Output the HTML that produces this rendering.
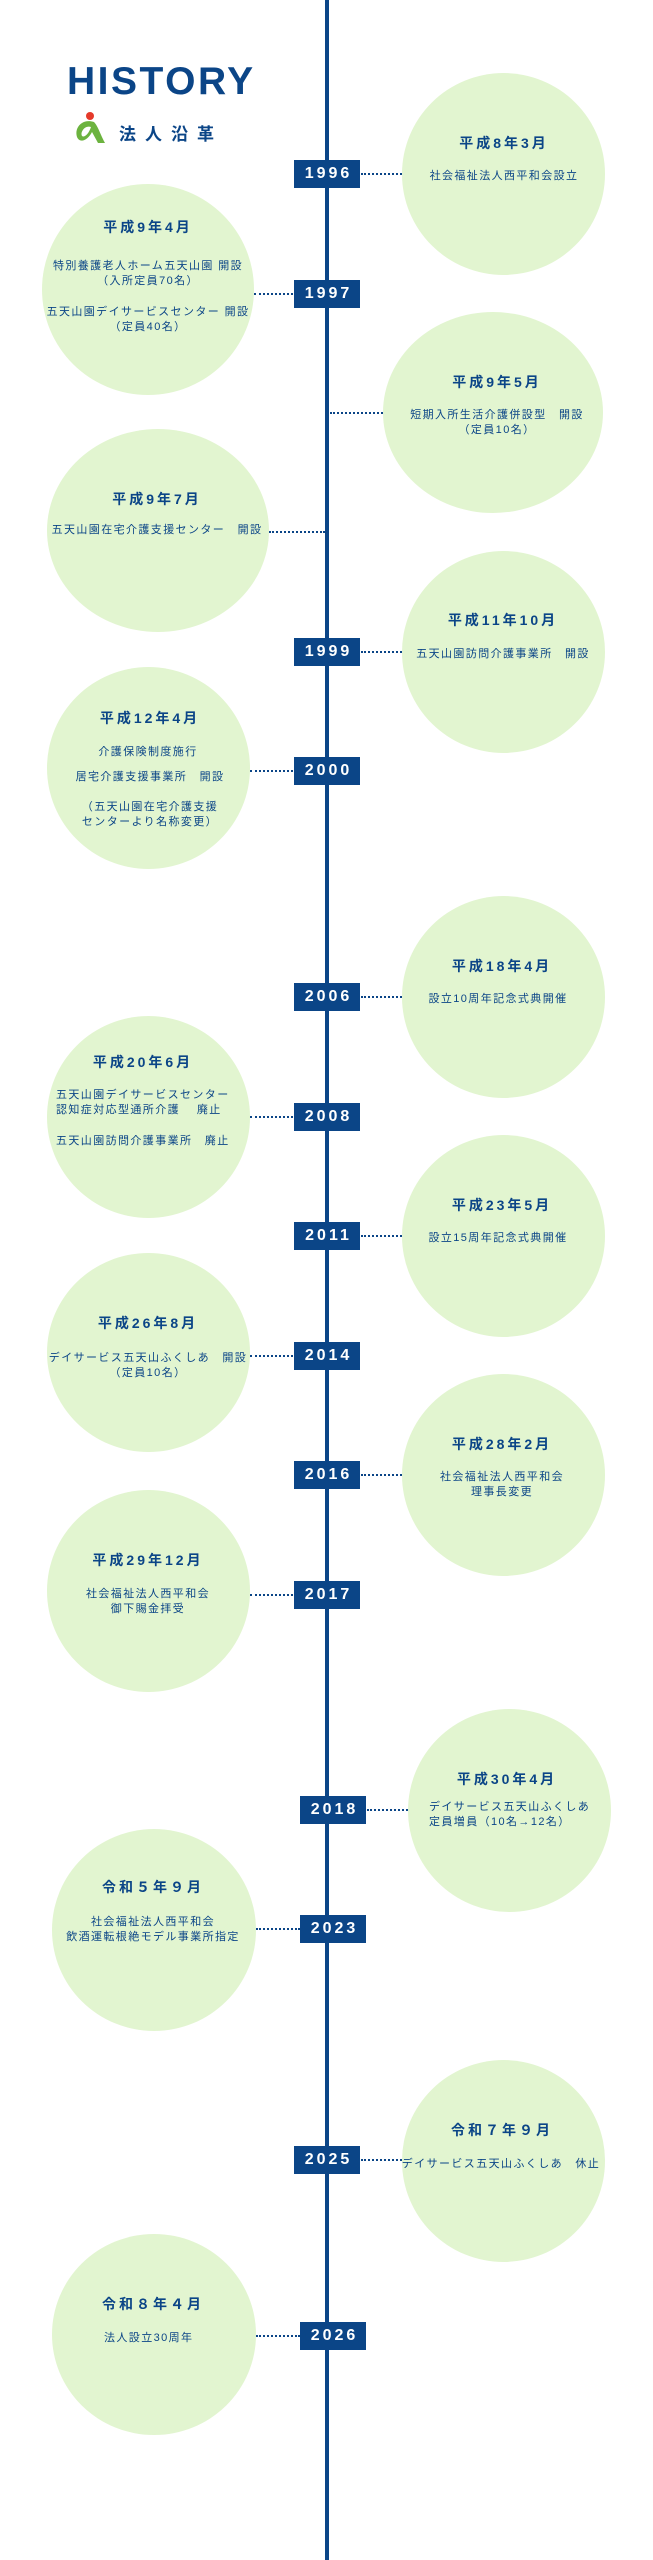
<!DOCTYPE html>
<html><head><meta charset="utf-8">
<style>
html,body{margin:0;padding:0;background:#fff;}
body{width:653px;height:2560px;position:relative;overflow:hidden;font-family:"Liberation Sans","Noto Sans CJK JP",sans-serif;color:#0b4587;}
.line{position:absolute;left:325px;top:0;width:4px;height:2560px;background:#0b4587;}
.c{position:absolute;background:#e2f5d0;border-radius:50%;}
.y{position:absolute;width:66px;height:28px;background:#0b4587;color:#fff;font-weight:bold;font-size:16px;letter-spacing:3px;text-align:center;line-height:28px;text-indent:3px;}
.d{position:absolute;height:0;border-top:2px dotted #0b4587;}
.t{position:absolute;font-weight:bold;font-size:14px;letter-spacing:3px;line-height:14px;white-space:nowrap;transform:translateX(-50%);text-align:center;}
.b{position:absolute;font-size:11px;letter-spacing:1.4px;line-height:14.5px;white-space:nowrap;transform:translateX(-50%);text-align:center;}
.bl{position:absolute;font-size:11px;letter-spacing:1.4px;line-height:14.5px;white-space:nowrap;}
</style></head><body>
<div class="line"></div>

<div style="position:absolute;left:67px;top:62px;font-size:39px;font-weight:bold;letter-spacing:2.5px;line-height:40px;">HISTORY</div>
<svg style="position:absolute;left:72px;top:110px" width="38" height="36" viewBox="0 0 38 36">
<circle cx="18" cy="6" r="4" fill="#e53a2a"/>
<path d="M22 12 C10 8 2 18 5 27 C8 34 16 30 20 22 L26 33 L33 33 C28 24 26 16 22 12 Z M19 17 C17 23 13 28 10 26 C8 23 12 15 19 17 Z" fill="#6cb33f"/>
</svg>
<div style="position:absolute;left:119px;top:126px;font-size:17px;font-weight:bold;letter-spacing:9px;line-height:18px;">法人沿革</div>

<!-- circles right -->
<div class="c" style="left:402px;top:73px;width:203px;height:202px"></div>
<div class="c" style="left:383px;top:312px;width:220px;height:201px"></div>
<div class="c" style="left:402px;top:551px;width:203px;height:202px"></div>
<div class="c" style="left:402px;top:896px;width:203px;height:202px"></div>
<div class="c" style="left:402px;top:1135px;width:203px;height:202px"></div>
<div class="c" style="left:402px;top:1374px;width:203px;height:202px"></div>
<div class="c" style="left:408px;top:1709px;width:203px;height:203px"></div>
<div class="c" style="left:402px;top:2060px;width:203px;height:202px"></div>
<!-- circles left -->
<div class="c" style="left:42px;top:184px;width:212px;height:211px"></div>
<div class="c" style="left:47px;top:429px;width:222px;height:203px"></div>
<div class="c" style="left:47px;top:667px;width:203px;height:202px"></div>
<div class="c" style="left:47px;top:1016px;width:203px;height:202px"></div>
<div class="c" style="left:47px;top:1253px;width:203px;height:199px"></div>
<div class="c" style="left:47px;top:1490px;width:203px;height:202px"></div>
<div class="c" style="left:52px;top:1829px;width:204px;height:202px"></div>
<div class="c" style="left:52px;top:2234px;width:204px;height:201px"></div>

<!-- connectors -->
<div class="d" style="left:361px;width:41px;top:173px"></div>
<div class="d" style="left:254px;width:39px;top:293px"></div>
<div class="d" style="left:330px;width:53px;top:412px"></div>
<div class="d" style="left:269px;width:56px;top:531px"></div>
<div class="d" style="left:361px;width:41px;top:651px"></div>
<div class="d" style="left:250px;width:43px;top:770px"></div>
<div class="d" style="left:361px;width:41px;top:996px"></div>
<div class="d" style="left:250px;width:43px;top:1116px"></div>
<div class="d" style="left:361px;width:41px;top:1235px"></div>
<div class="d" style="left:250px;width:43px;top:1355px"></div>
<div class="d" style="left:361px;width:41px;top:1474px"></div>
<div class="d" style="left:250px;width:43px;top:1594px"></div>
<div class="d" style="left:367px;width:41px;top:1809px"></div>
<div class="d" style="left:256px;width:44px;top:1928px"></div>
<div class="d" style="left:361px;width:41px;top:2159px"></div>
<div class="d" style="left:256px;width:44px;top:2335px"></div>

<!-- year boxes -->
<div class="y" style="left:294px;top:160px">1996</div>
<div class="y" style="left:294px;top:280px">1997</div>
<div class="y" style="left:294px;top:638px">1999</div>
<div class="y" style="left:294px;top:757px">2000</div>
<div class="y" style="left:294px;top:983px">2006</div>
<div class="y" style="left:294px;top:1103px">2008</div>
<div class="y" style="left:294px;top:1222px">2011</div>
<div class="y" style="left:294px;top:1342px">2014</div>
<div class="y" style="left:294px;top:1461px">2016</div>
<div class="y" style="left:294px;top:1581px">2017</div>
<div class="y" style="left:300px;top:1796px">2018</div>
<div class="y" style="left:300px;top:1915px">2023</div>
<div class="y" style="left:294px;top:2146px">2025</div>
<div class="y" style="left:300px;top:2322px">2026</div>

<!-- texts -->
<div class="t" style="left:504px;top:136px">平成8年3月</div>
<div class="b" style="left:504px;top:169px">社会福祉法人西平和会設立</div>

<div class="t" style="left:148px;top:220px">平成9年4月</div>
<div class="b" style="left:148px;top:259px">特別養護老人ホーム五天山園 開設<br>（入所定員70名）</div>
<div class="b" style="left:148px;top:305px">五天山園デイサービスセンター 開設<br>（定員40名）</div>

<div class="t" style="left:497px;top:375px">平成9年5月</div>
<div class="b" style="left:497px;top:408px">短期入所生活介護併設型　開設<br>（定員10名）</div>

<div class="t" style="left:157px;top:492px">平成9年7月</div>
<div class="b" style="left:157px;top:523px">五天山園在宅介護支援センター　開設</div>

<div class="t" style="left:503px;top:613px">平成11年10月</div>
<div class="b" style="left:503px;top:647px">五天山園訪問介護事業所　開設</div>

<div class="t" style="left:150px;top:711px">平成12年4月</div>
<div class="b" style="left:148px;top:745px">介護保険制度施行</div>
<div class="b" style="left:150px;top:770px">居宅介護支援事業所　開設</div>
<div class="b" style="left:150px;top:800px">（五天山園在宅介護支援<br>センターより名称変更）</div>

<div class="t" style="left:502px;top:959px">平成18年4月</div>
<div class="b" style="left:498px;top:992px">設立10周年記念式典開催</div>

<div class="t" style="left:143px;top:1055px">平成20年6月</div>
<div class="bl" style="left:56px;top:1088px">五天山園デイサービスセンター<br>認知症対応型通所介護　 廃止</div>
<div class="bl" style="left:56px;top:1134px">五天山園訪問介護事業所　廃止</div>

<div class="t" style="left:502px;top:1198px">平成23年5月</div>
<div class="b" style="left:498px;top:1231px">設立15周年記念式典開催</div>

<div class="t" style="left:148px;top:1316px">平成26年8月</div>
<div class="b" style="left:148px;top:1351px">デイサービス五天山ふくしあ　開設<br>（定員10名）</div>

<div class="t" style="left:502px;top:1437px">平成28年2月</div>
<div class="b" style="left:502px;top:1470px">社会福祉法人西平和会<br>理事長変更</div>

<div class="t" style="left:148px;top:1553px">平成29年12月</div>
<div class="b" style="left:148px;top:1587px">社会福祉法人西平和会<br>御下賜金拝受</div>

<div class="t" style="left:507px;top:1772px">平成30年4月</div>
<div class="bl" style="left:429px;top:1800px">デイサービス五天山ふくしあ<br>定員増員（10名→12名）</div>

<div class="t" style="left:153px;top:1880px">令和５年９月</div>
<div class="b" style="left:153px;top:1915px">社会福祉法人西平和会<br>飲酒運転根絶モデル事業所指定</div>

<div class="t" style="left:502px;top:2123px">令和７年９月</div>
<div class="b" style="left:501px;top:2157px">デイサービス五天山ふくしあ　休止</div>

<div class="t" style="left:153px;top:2297px">令和８年４月</div>
<div class="bl" style="left:104px;top:2331px">法人設立30周年</div>
</body></html>
